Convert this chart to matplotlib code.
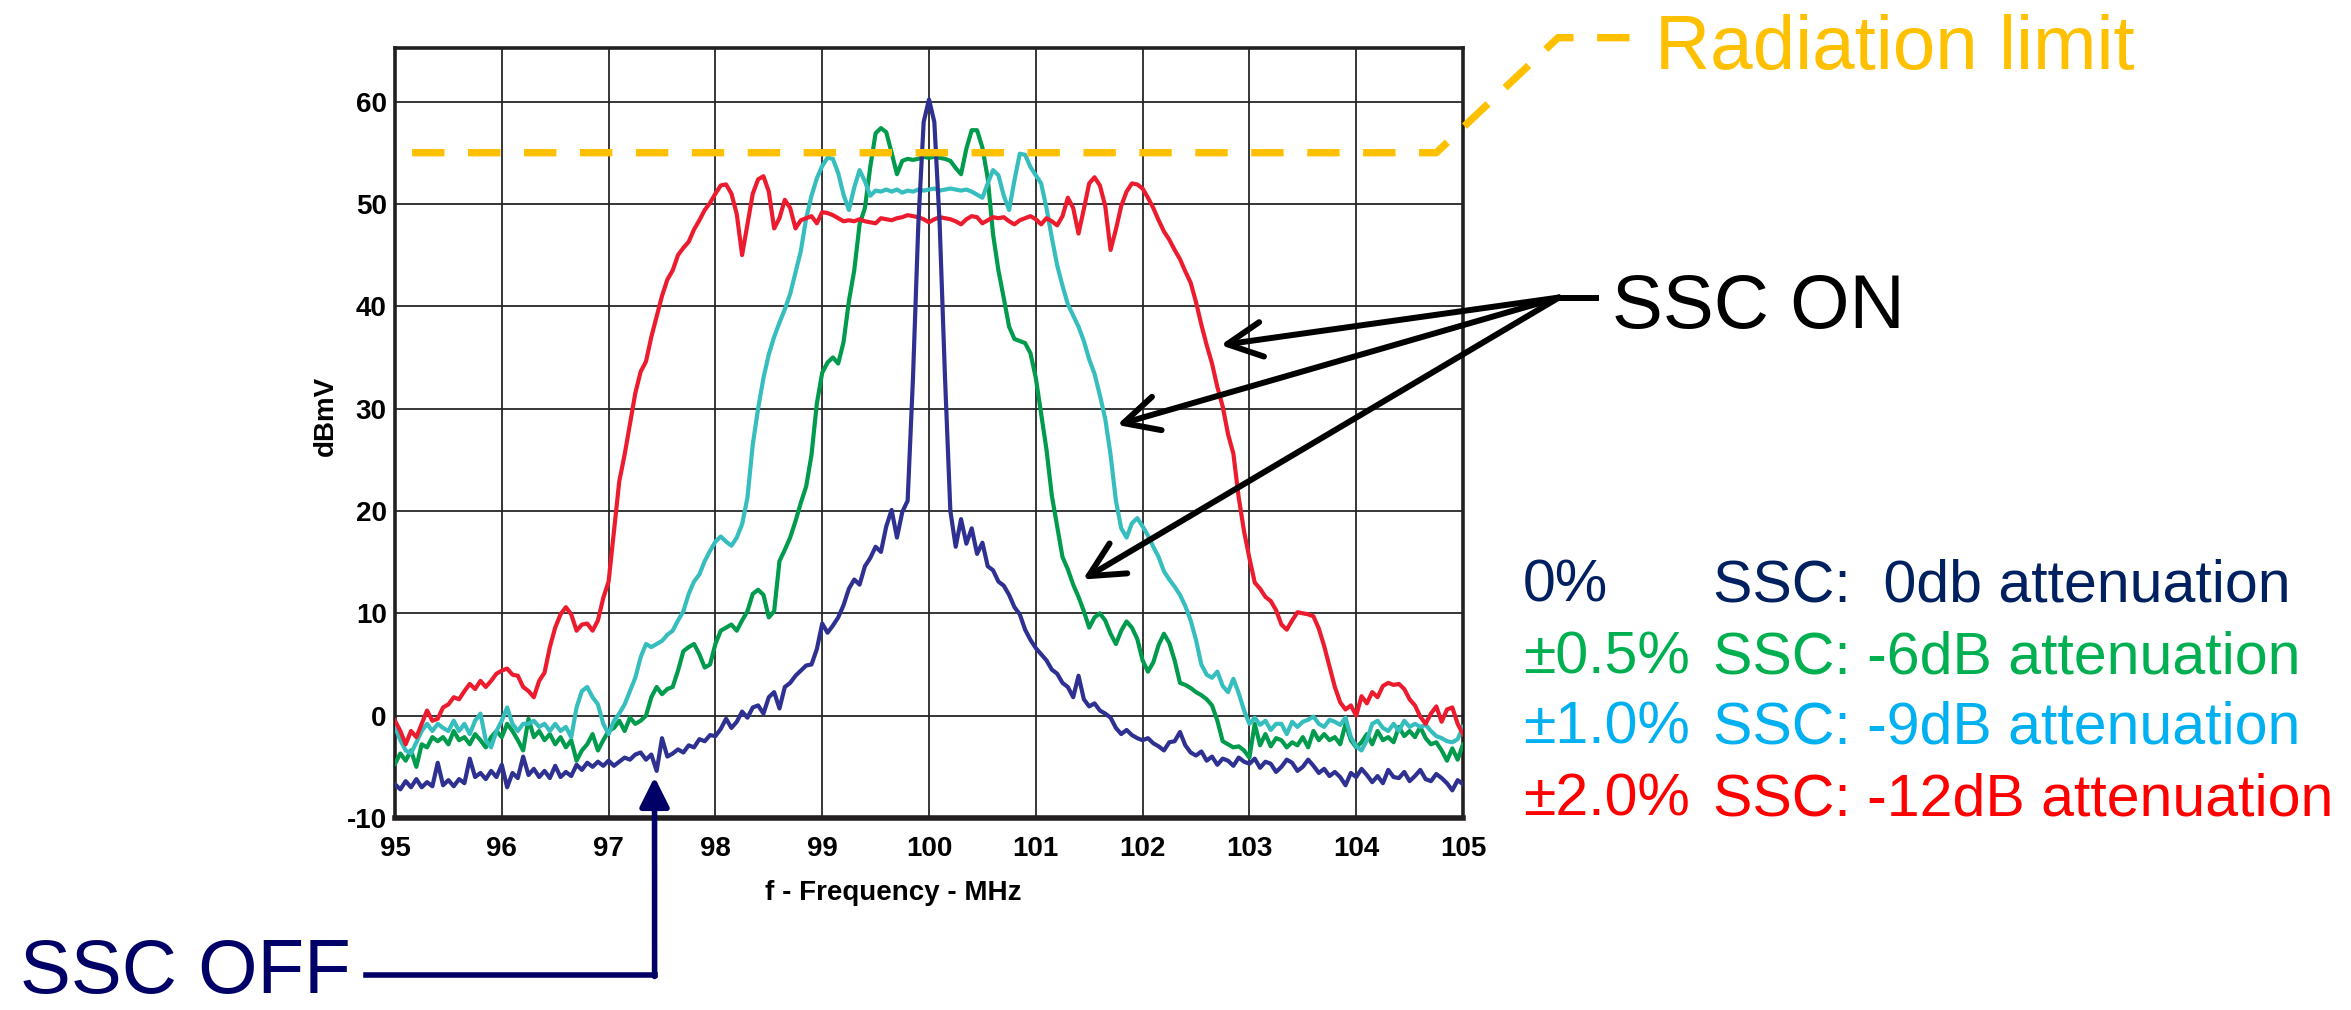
import numpy as np
import matplotlib.pyplot as plt
from matplotlib.lines import Line2D

plt.rcParams['font.family'] = ['Liberation Sans', 'DejaVu Sans']
plt.rcParams['axes.unicode_minus'] = False

# frequency grid, 0.05 MHz steps from 95 to 105 MHz
freq_mhz = np.round(np.linspace(95.0, 105.0, 201), 2)

# 0% SSC (SSC off)
ssc_0 = [
    -6.7, -7.2, -6.4, -7.0, -6.2, -7.0, -6.5, -6.9, -4.6, -6.8, -6.3, -6.9, -6.2, -6.6, -4.2, -6.0, -5.6, -6.2, -5.4, -6.0,
    -4.8, -7.0, -5.6, -6.1, -4.0, -5.8, -5.2, -6.0, -5.4, -6.1, -4.9, -6.0, -5.5, -5.9, -4.8, -5.3, -4.6, -5.0, -4.5, -4.9,
    -4.4, -4.9, -4.5, -4.1, -4.3, -3.8, -3.6, -4.3, -3.8, -5.4, -2.2, -4.0, -3.7, -3.3, -3.6, -2.9, -3.1, -2.3, -2.5, -1.9,
    -2.0, -1.3, -0.3, -1.2, -0.6, 0.4, -0.2, 0.8, 1.0, 0.2, 1.8, 2.3, 0.7, 2.8, 3.2, 3.9, 4.4, 4.9, 5.0, 6.5,
    9.0, 8.1, 8.8, 9.6, 10.8, 12.4, 13.3, 12.8, 14.6, 15.4, 16.5, 16.0, 18.5, 20.1, 17.4, 19.9, 21.0, 33.0, 48.0, 58.0,
    60.2, 58.0, 48.0, 33.0, 20.0, 16.5, 19.2, 16.8, 18.3, 15.8, 16.9, 14.6, 14.2, 13.1, 12.7, 11.8, 10.6, 9.9, 8.4, 7.4,
    6.6, 6.0, 5.4, 4.5, 4.1, 3.2, 2.8, 1.8, 3.9, 1.6, 0.9, 1.2, 0.5, 0.2, -0.2, -1.2, -1.8, -1.4, -1.9, -2.2,
    -2.4, -2.2, -2.7, -3.0, -3.4, -2.6, -2.5, -1.6, -2.9, -3.6, -3.9, -3.5, -4.4, -4.0, -4.8, -4.2, -4.4, -4.9, -4.1, -4.5,
    -4.7, -4.2, -5.1, -4.5, -4.7, -5.5, -5.0, -4.3, -4.6, -5.4, -5.0, -4.3, -4.9, -5.6, -5.2, -5.9, -5.5, -6.0, -6.8, -5.6,
    -6.0, -5.2, -5.8, -6.5, -5.9, -6.6, -5.3, -6.0, -6.1, -5.5, -6.4, -5.9, -5.3, -6.2, -6.4, -5.7, -6.1, -6.6, -7.3, -6.3,
    -6.7,
]

# +/-0.5% SSC
ssc_05 = [
    -4.7, -3.7, -4.4, -3.4, -5.0, -2.8, -3.1, -2.1, -2.5, -2.1, -2.8, -1.5, -2.4, -2.1, -2.8, -1.8, -2.4, -3.1, -2.1, -1.5,
    -2.1, -0.8, -1.5, -2.4, -3.4, -0.3, -2.1, -1.5, -2.4, -1.8, -2.8, -2.1, -3.1, -2.4, -4.4, -3.4, -2.8, -1.8, -3.4, -2.4,
    -1.5, -1.2, -0.5, -1.5, -0.2, -0.8, -0.5, 0.0, 1.8, 2.8, 2.1, 2.6, 2.8, 4.4, 6.3, 6.7, 7.0, 6.0, 4.7, 5.0,
    7.0, 8.3, 8.6, 8.9, 8.3, 9.3, 10.2, 11.9, 12.3, 11.8, 9.6, 10.2, 15.1, 16.2, 17.4, 19.0, 20.8, 22.4, 25.5, 30.5,
    33.5, 34.5, 35.0, 34.4, 36.5, 40.5, 43.5, 48.0, 49.6, 53.6, 56.9, 57.4, 57.0, 55.0, 52.9, 54.2, 54.4, 54.3, 54.4, 54.6,
    54.5, 54.6, 54.5, 54.4, 54.2, 53.5, 52.9, 55.4, 57.2, 57.2, 55.5, 52.5, 47.0, 43.5, 40.8, 38.0, 36.8, 36.6, 36.4, 35.4,
    33.0, 29.5, 26.0, 21.5, 18.5, 15.5, 14.3, 12.8, 11.6, 10.2, 8.6, 9.6, 10.0, 9.3, 8.0, 7.0, 8.3, 9.2, 8.6, 7.5,
    5.4, 4.3, 5.2, 6.9, 8.0, 7.1, 5.4, 3.2, 3.0, 2.7, 2.3, 2.0, 1.6, 1.0, -0.5, -2.5, -2.8, -3.1, -3.0, -3.4,
    -4.1, -0.8, -2.9, -1.8, -3.0, -2.2, -2.4, -3.1, -2.6, -2.9, -2.1, -3.1, -1.5, -2.4, -1.8, -2.4, -2.1, -2.8, -0.8, -2.4,
    -3.1, -2.6, -1.8, -2.8, -1.5, -2.4, -2.1, -2.6, -1.1, -2.0, -1.5, -2.1, -1.1, -2.2, -2.8, -2.6, -3.4, -4.4, -3.2, -4.3,
    -2.8,
]

# +/-1.0% SSC
ssc_10 = [
    -1.1, -2.4, -3.4, -3.7, -2.6, -1.5, -0.8, -1.5, -0.8, -1.2, -1.5, -0.5, -1.5, -0.8, -1.8, -0.5, 0.2, -2.4, -3.1, -1.5,
    -0.5, 0.8, -0.8, -1.5, -0.8, -0.8, -0.5, -1.1, -0.8, -1.5, -0.8, -1.5, -1.1, -2.1, 0.8, 2.4, 2.8, 1.8, 1.1, -0.8,
    -1.8, -0.5, 0.2, 1.1, 2.4, 3.7, 5.7, 7.0, 6.7, 7.0, 7.3, 7.9, 8.3, 9.3, 10.2, 11.9, 13.1, 13.8, 15.1, 16.1,
    17.0, 17.5, 17.0, 16.6, 17.4, 18.7, 21.3, 26.5, 30.0, 33.0, 35.3, 37.0, 38.4, 39.7, 41.2, 43.3, 45.4, 48.6, 50.8, 52.5,
    53.7, 54.5, 54.4, 53.0, 50.9, 49.4, 51.6, 53.3, 52.2, 50.8, 51.3, 51.2, 51.4, 51.2, 51.4, 51.1, 51.3, 51.2, 51.4, 51.3,
    51.4, 51.5, 51.3, 51.4, 51.5, 51.4, 51.3, 51.4, 51.2, 50.9, 50.6, 52.0, 53.3, 52.8, 50.8, 49.4, 52.3, 54.9, 54.8, 53.6,
    52.8, 52.0, 49.6, 46.7, 44.0, 42.0, 40.2, 39.1, 38.0, 36.6, 34.8, 33.4, 31.3, 29.0, 25.5, 21.0, 18.3, 17.4, 18.8, 19.3,
    18.5, 17.6, 16.5, 15.5, 14.1, 13.3, 12.6, 11.8, 10.7, 9.3, 7.4, 5.0, 4.0, 3.7, 4.3, 2.9, 2.3, 3.6, 2.2, 0.5,
    -0.8, -0.2, -0.9, -0.5, -1.4, -0.8, -0.8, -1.8, -0.6, -1.1, -0.6, -0.4, -0.1, -0.8, -1.1, -0.4, -0.6, -0.9, -0.2, -2.1,
    -3.0, -3.4, -2.4, -0.8, -0.5, -1.2, -1.5, -0.8, -1.5, -0.5, -1.1, -0.8, -1.1, -0.9, -1.5, -2.0, -2.2, -2.5, -2.6, -2.3,
    -1.1,
]

# +/-2.0% SSC
ssc_20 = [
    -0.5, -1.5, -2.8, -1.5, -2.1, -0.8, 0.5, -0.5, -0.3, 0.8, 1.1, 1.8, 1.6, 2.4, 3.1, 2.6, 3.4, 2.8, 3.4, 4.1,
    4.4, 4.6, 4.0, 3.9, 2.8, 2.4, 1.8, 3.4, 4.2, 6.7, 8.6, 9.9, 10.6, 9.9, 8.3, 8.9, 9.0, 8.3, 9.3, 11.5,
    13.1, 18.0, 22.9, 25.5, 28.5, 31.5, 33.6, 34.6, 37.0, 39.0, 41.0, 42.6, 43.5, 45.0, 45.7, 46.3, 47.5, 48.4, 49.4, 50.1,
    51.0, 51.8, 51.9, 51.0, 49.0, 45.0, 48.0, 51.0, 52.4, 52.7, 51.2, 47.6, 48.6, 50.4, 49.6, 47.6, 48.4, 48.6, 48.8, 48.1,
    49.2, 49.1, 48.9, 48.6, 48.3, 48.4, 48.3, 48.5, 48.3, 48.2, 48.1, 48.6, 48.5, 48.4, 48.6, 48.7, 48.9, 48.8, 48.7, 48.5,
    48.2, 48.5, 48.7, 48.6, 48.5, 48.3, 48.0, 48.5, 48.8, 48.7, 48.1, 48.4, 48.7, 48.6, 48.7, 48.3, 48.0, 48.4, 48.6, 48.8,
    48.5, 48.0, 48.6, 48.3, 47.9, 48.8, 50.6, 49.6, 47.1, 49.5, 52.0, 52.6, 51.8, 49.8, 45.5, 47.5, 49.8, 51.2, 52.0, 51.9,
    51.5, 50.6, 49.6, 48.4, 47.3, 46.5, 45.5, 44.6, 43.4, 42.3, 40.4, 38.2, 36.2, 34.4, 32.1, 30.2, 27.5, 25.6, 21.3, 18.0,
    15.4, 13.0, 12.4, 11.6, 11.2, 10.3, 8.9, 8.4, 9.3, 10.1, 10.0, 9.9, 9.7, 8.5, 6.8, 4.8, 2.8, 1.3, 0.6, 1.0,
    0.0, 1.9, 1.2, 2.3, 1.8, 2.9, 3.2, 3.0, 3.1, 2.6, 1.6, 1.0, -0.1, -0.8, 0.2, 0.9, -0.6, 0.6, 0.8, -0.8,
    -1.8,
]

limit_dbmv = 55
x_ticks = [95, 96, 97, 98, 99, 100, 101, 102, 103, 104, 105]
y_ticks = [-10, 0, 10, 20, 30, 40, 50, 60]

pct_labels = ['0%', '±0.5%', '±1.0%', '±2.0%']
att_labels = ['SSC:  0db attenuation', 'SSC: -6dB attenuation',
              'SSC: -9dB attenuation', 'SSC: -12dB attenuation']
text_colors = ['#002060', '#00B050', '#00B0F0', '#FF0000']

W, H = 2351, 1010


def fx(px):
    return px / W


def fy(py):
    return 1 - py / H


fig = plt.figure(figsize=(W / 100, H / 100), dpi=100)
ax = fig.add_axes([fx(395), fy(818), fx(1463) - fx(395), fy(48.3) - fy(818)])

ax.plot(freq_mhz, ssc_05, color='#009B4C', lw=3, zorder=3)
ax.plot(freq_mhz, ssc_10, color='#36BDBD', lw=3, zorder=3)
ax.plot(freq_mhz, ssc_20, color='#EC1C2E', lw=3, zorder=3)
ax.plot(freq_mhz, ssc_0, color='#2E3192', lw=3, zorder=4)

ax.set_xlim(95, 105)
ax.set_ylim(-10, 65.2)
ax.set_xticks(x_ticks)
ax.set_yticks(y_ticks)
ax.tick_params(length=0, labelsize=20)
ax.tick_params(axis='y', pad=6)
ax.tick_params(axis='x', pad=13)
for lab in ax.get_xticklabels() + ax.get_yticklabels():
    lab.set_fontweight('bold')
ax.grid(True, color='#262626', lw=1.3)
ax.set_axisbelow(True)
for side in ['left', 'right', 'top']:
    ax.spines[side].set_linewidth(2.6)
    ax.spines[side].set_color('#231F20')
ax.spines['bottom'].set_linewidth(4)
ax.spines['bottom'].set_color('#231F20')

fig.text(fx(893), fy(893), 'f - Frequency - MHz', ha='center', va='center',
         fontsize=20, fontweight='bold')
fig.text(fx(326), fy(416), 'dBmV', ha='center', va='center', rotation=90,
         fontsize=20, fontweight='bold')

# radiation limit line, running out of the plot to its label
ax.plot([95.16, 104.75, 105.89, 106.56],
        [limit_dbmv, limit_dbmv, 66.24, 66.24],
        color='#FFC000', lw=5.3, linestyle=(0, (4.4, 3.2)),
        clip_on=False, zorder=5)
fig.text(fx(1655), fy(69), 'Radiation limit', color='#FFC000',
         fontsize=55, va='baseline', ha='left')

# SSC ON label with three arrows
fig.text(fx(1612), fy(328), 'SSC ON', color='black', fontsize=55,
         va='baseline', ha='left')
fig.add_artist(Line2D([fx(1559), fx(1596)], [fy(297.5), fy(297.5)],
                      transform=fig.transFigure, color='black', lw=4.3))
for tip in [(102.73, 36.2), (101.76, 28.4), (101.44, 13.3)]:
    ax.annotate('', xy=tip, xycoords='data',
                xytext=(fx(1559), fy(297.5)), textcoords='figure fraction',
                arrowprops=dict(arrowstyle='->,head_length=0.5,head_width=0.25',
                                lw=4.3, color='black', mutation_scale=50,
                                shrinkA=0, shrinkB=0),
                annotation_clip=False)

# SSC OFF label with elbow arrow
fig.text(fx(20), fy(993), 'SSC OFF', color='#000066', fontsize=55,
         va='baseline', ha='left')
fig.add_artist(Line2D([fx(366), fx(654.6)], [fy(975), fy(975)],
                      transform=fig.transFigure, color='#000066', lw=4,
                      solid_capstyle='projecting'))
ax.annotate('', xy=(97.43, -6.0), xycoords='data',
            xytext=(fx(654.6), fy(976.5)), textcoords='figure fraction',
            arrowprops=dict(arrowstyle='-|>,head_length=0.5,head_width=0.25',
                            lw=4, color='#000066', mutation_scale=36,
                            shrinkA=0, shrinkB=0),
            annotation_clip=False)

# colour-coded key
col_x = [1523, 1713]
baselines = [601, 673, 744, 815]
for pct, att, col, yb in zip(pct_labels, att_labels, text_colors, baselines):
    fig.text(fx(col_x[0]), fy(yb), pct, color=col, fontsize=42.5,
             va='baseline', ha='left')
    fig.text(fx(col_x[1]), fy(yb), att, color=col, fontsize=42.5,
             va='baseline', ha='left')

fig.savefig('out.png', dpi=100)
